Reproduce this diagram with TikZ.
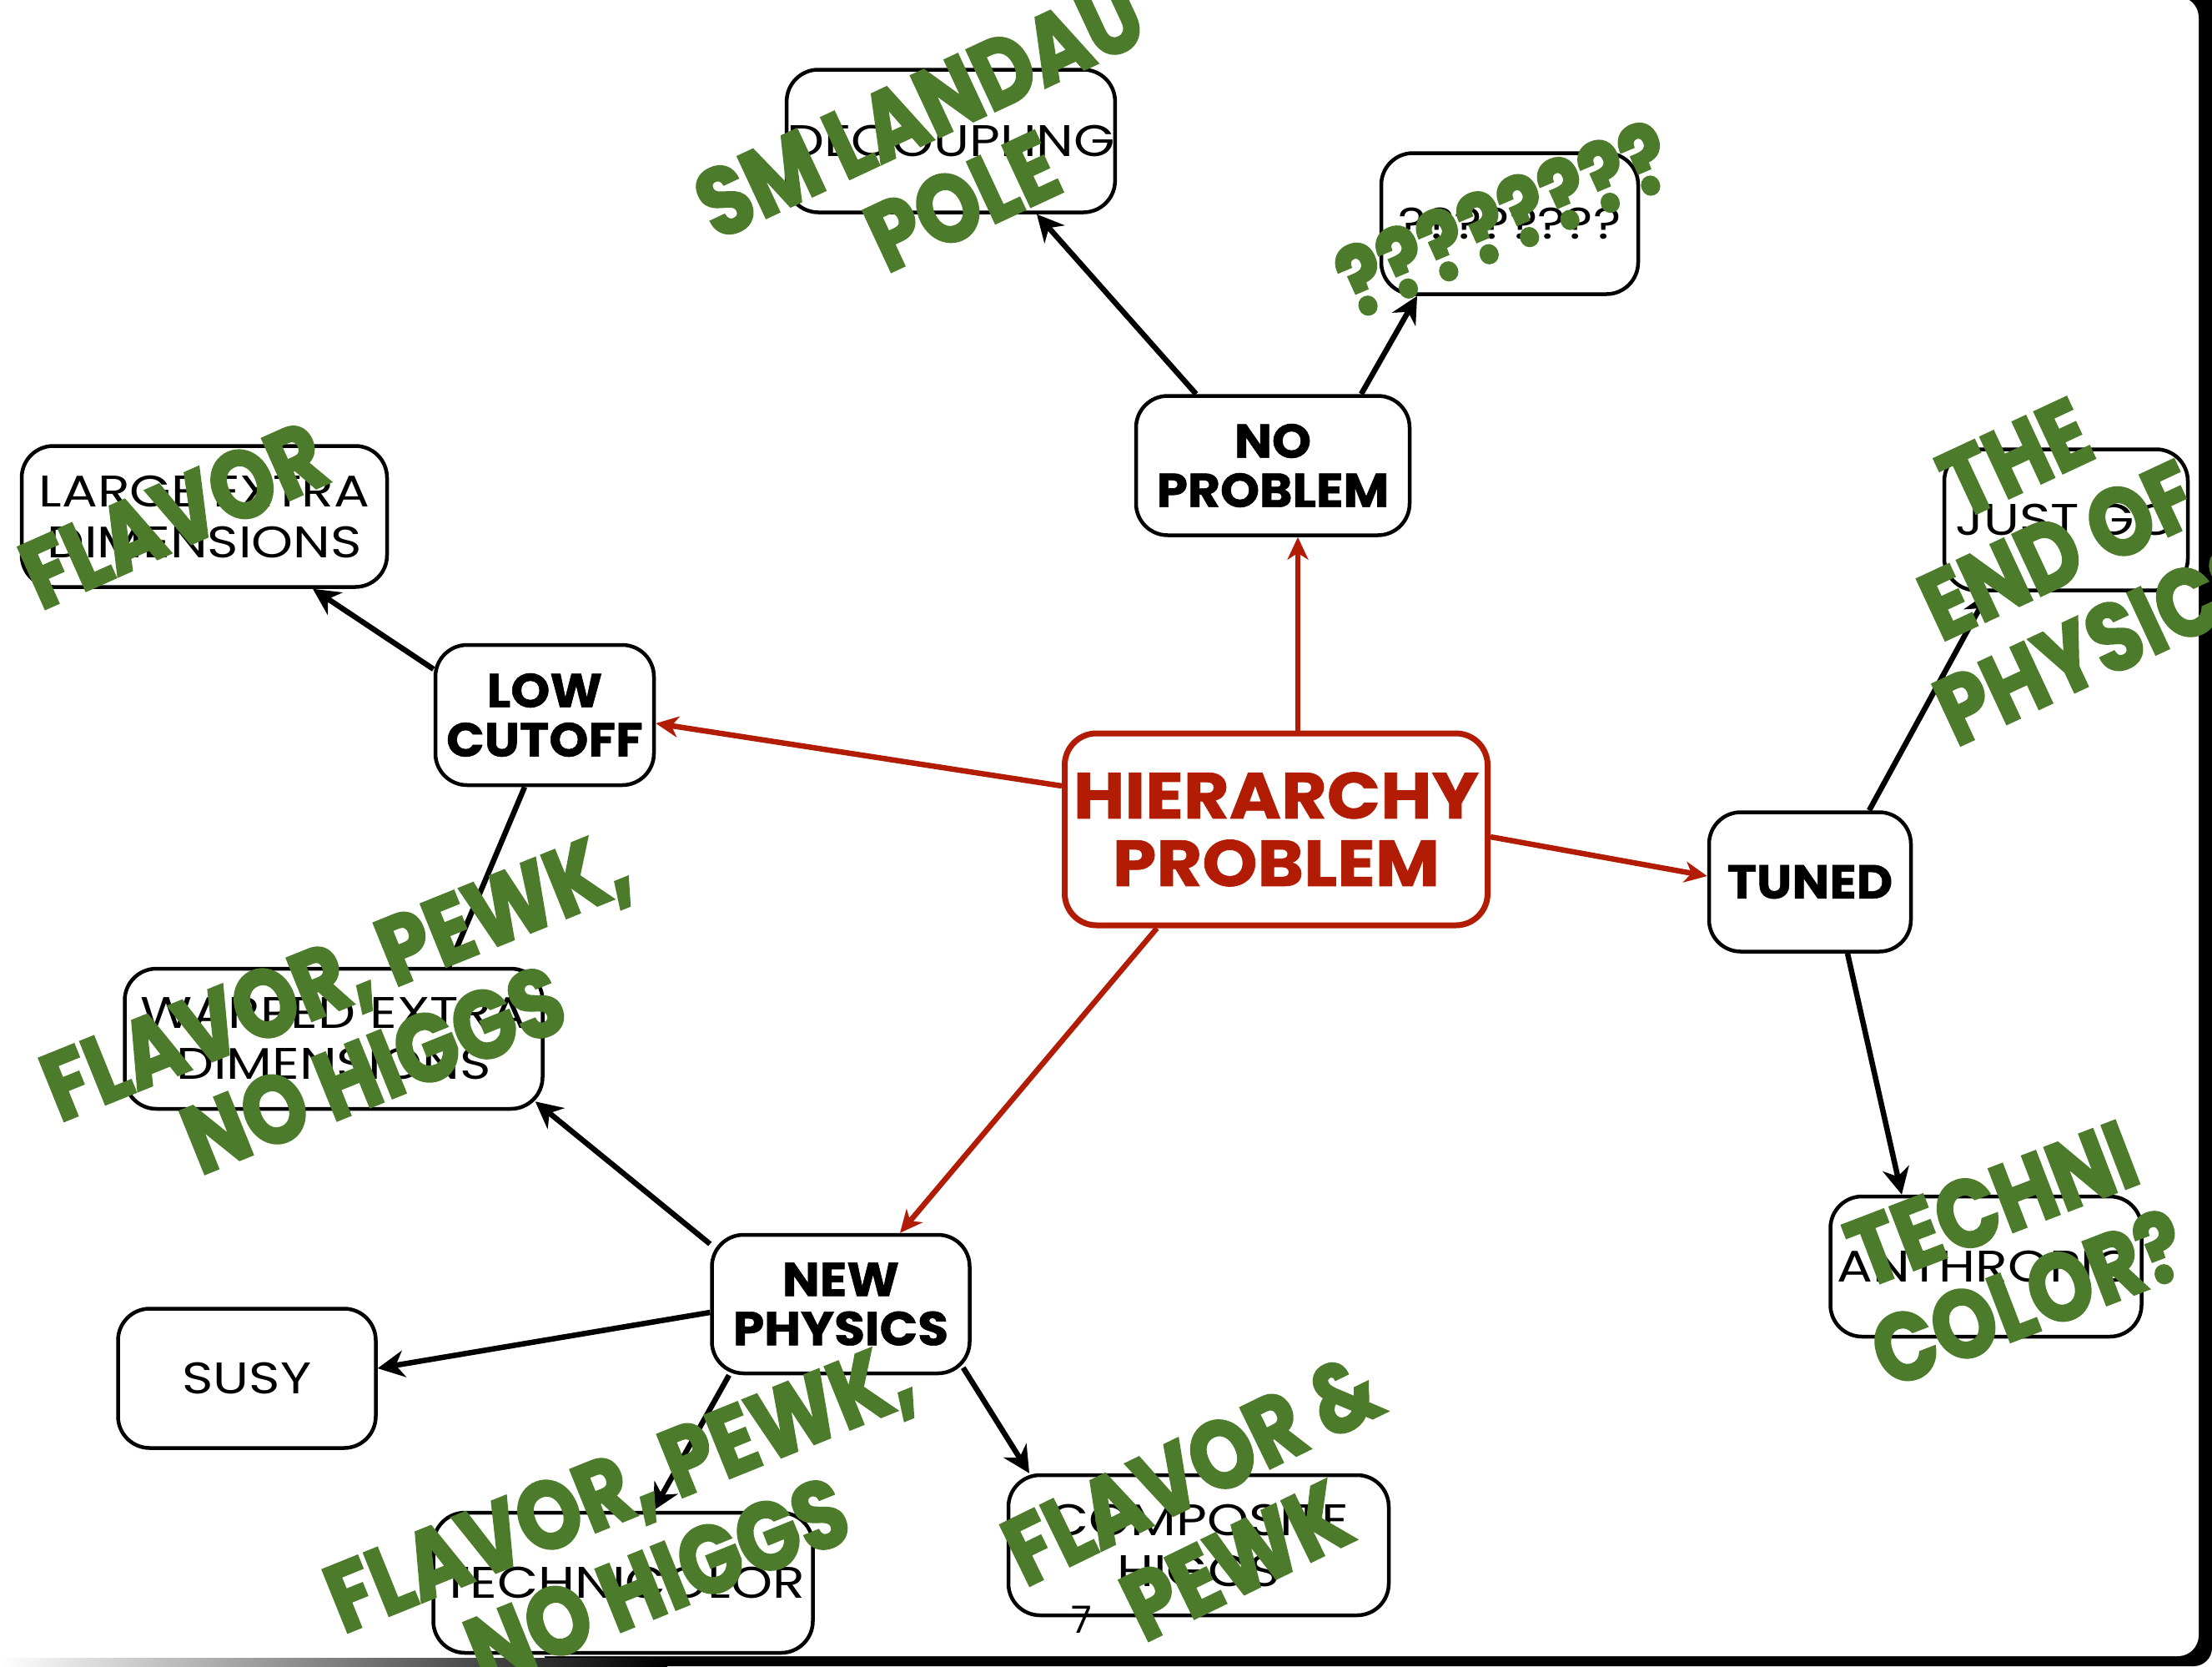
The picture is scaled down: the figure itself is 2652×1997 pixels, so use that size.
\documentclass[tikz,border=0pt]{standalone}
\usepackage{fontspec}
\setmainfont{Poppins}
\newfontfamily\labelfont{Poppins}[FakeStretch=1.2]
\newfontfamily\boldfont{Poppins}[FakeStretch=1.05,FakeBold=1]
\newfontfamily\headfont{Poppins}[FakeStretch=1.08,FakeBold=1]
\newfontfamily\markerfont{Poppins}[FakeStretch=0.85,FakeBold=2.5]
\usetikzlibrary{arrows.meta,calc}
\definecolor{probred}{RGB}{178,28,4}
\definecolor{markgreen}{RGB}{77,123,44}

\begin{document}
\begin{tikzpicture}[x=1pt,y=-1pt,
  box/.style={draw=black, line width=4.5pt, rounded corners=38pt, fill=white,
    align=center, inner sep=0pt, text=black},
  thin/.style={box, font=\labelfont\fontsize{53}{61}\selectfont},
  heavy/.style={box, font=\boldfont\bfseries\fontsize{57}{59}\selectfont},
  redbox/.style={box, draw=probred, line width=7pt, text=probred,
    font=\headfont\bfseries\fontsize{78}{81}\selectfont},
  link/.style={draw=black, line width=6.5pt,
    -{Stealth[length=32pt,width=32pt,inset=10pt]}},
  plainlink/.style={draw=black, line width=6.5pt},
  redlink/.style={draw=probred, line width=6.5pt,
    -{Stealth[length=27pt,width=25pt,inset=8pt]}},
  note/.style={text=markgreen, align=center, inner sep=0pt,
    font=\markerfont\bfseries\fontsize{115}{122}\selectfont},
]
% slide frame with its shadow
\useasboundingbox (0,0) rectangle (2652,1997);
\fill[white] (0,0) rectangle (2652,1997);
\fill[black, rounded corners=22pt] (650,-40) rectangle (2652,1997);
\shade[left color=white, right color=black] (0,1987) rectangle (800,1997);
\fill[white, rounded corners=25pt] (-60,-4) rectangle (2636,1985);

% boxes
\node[thin, minimum width=392, minimum height=171] (decoup) at (1140,169) {DECOUPLING};
\node[thin, minimum width=308, minimum height=169] (qbox) at (1810,268) {????????};
\node[heavy, minimum width=328, minimum height=167] (noprob) at (1526,558) {NO\\PROBLEM};
\node[thin, minimum width=438, minimum height=169] (large) at (245,619) {LARGE EXTRA\\DIMENSIONS};
\node[heavy, minimum width=262, minimum height=168] (lowcut) at (653,857) {LOW\\CUTOFF};
\node[redbox, minimum width=507, minimum height=230] (hier) at (1530,994) {HIERARCHY\\PROBLEM};
\node[heavy, minimum width=242, minimum height=167] (tuned) at (2170,1057) {TUNED};
\node[thin, minimum width=292, minimum height=169] (justgo) at (2477,623) {JUST GO};
\node[thin, minimum width=501, minimum height=168] (warped) at (400,1245) {WARPED EXTRA\\DIMENSIONS};
\node[heavy, minimum width=309, minimum height=166] (newphys) at (1008,1563) {NEW\\PHYSICS};
\node[thin, minimum width=309, minimum height=167] (susy) at (296,1652) {SUSY};
\node[thin, minimum width=455, minimum height=168] (techni) at (747,1897) {TECHNICOLOR};
\node[thin, minimum width=456, minimum height=168] (comp) at (1437,1852) {COMPOSITE\\HIGGS};
\node[thin, minimum width=373, minimum height=168] (anthro) at (2381,1518) {ANTHROPIC};

% page number
\node[font=\fontsize{45}{50}\selectfont, inner sep=0pt] (pagenum) at (1297,1941) {7};

% connectors from the central question
\draw[redlink] ([xshift=26]hier.north) -- ([xshift=30]noprob.south);
\draw[redlink] ([yshift=52]hier.west) -- ([yshift=-10]lowcut.east);
\draw[redlink] ([yshift=-9]hier.east) -- ([yshift=7]tuned.west);
\draw[redlink] ([xshift=-143]hier.south) -- ([xshift=71]newphys.north);

% second level connectors
\draw[link] ([xshift=-92]noprob.north) -- ([xshift=103]decoup.south);
\draw[link] ([xshift=106]noprob.north) -- ([xshift=-111]qbox.south);
\draw[link] ([yshift=55]lowcut.west) -- ([xshift=130]large.south);
\draw[plainlink] ([xshift=-24]lowcut.south) -- ([xshift=138]warped.north);
\draw[link] ([yshift=72]newphys.west) -- ([xshift=-11,yshift=11]warped.south east);
\draw[link] ([yshift=-10]newphys.west) -- ([yshift=12]susy.east);
\draw[link] ([xshift=-134]newphys.south) -- ([xshift=36]techni.north);
\draw[link] ([xshift=-10,yshift=9]newphys.south east) -- ([xshift=-203]comp.north);
\draw[link] ([xshift=71]tuned.north) -- ([xshift=-93]justgo.south);
\draw[link] ([xshift=45]tuned.south) -- ([xshift=-101]anthro.north);

% handwritten remarks
\node[note, rotate=25] (gLandau) at (1128,186) {SM LANDAU\\POLE};
\node[note, rotate=23] (gQuery) at (1803,262) {????????};
\node[note, rotate=24] (gFlav) at (208,617) {FLAVOR};
\node[note, rotate=25] (gEnd) at (2468,660) {THE\\END OF\\PHYSICS};
\node[note, rotate=22] (gWarp) at (425,1225) {FLAVOR, PEWK,\\NO HIGGS};
\node[note, rotate=22] (gTechni) at (765,1838) {FLAVOR, PEWK,\\NO HIGGS};
\node[note, rotate=26] (gComp) at (1455,1815) {FLAVOR \&\\PEWK};
\node[note, rotate=21] (gColor) at (2410,1500) {TECHNI\\COLOR?};
\end{tikzpicture}
\end{document}
